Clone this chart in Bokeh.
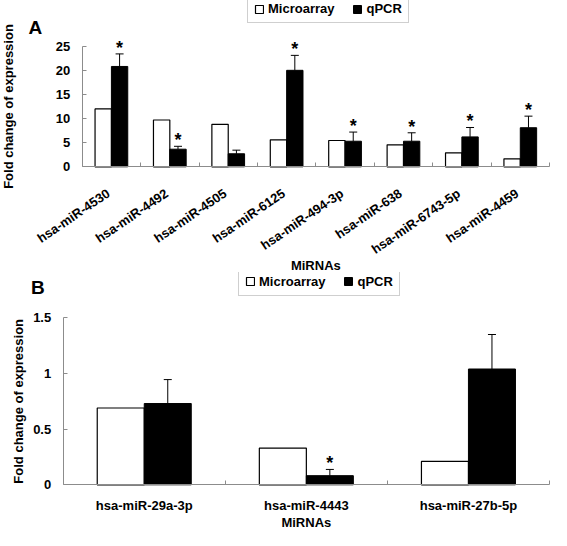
import math
from bokeh.plotting import figure
from bokeh.core.properties import value
from bokeh.models import (ColumnDataSource, Range1d, FixedTicker, Whisker, TeeHead, LabelSet, Label,
                          Legend, LegendItem, CustomJSTickFormatter, NumeralTickFormatter)
from bokeh.layouts import column
from bokeh.embed import file_html
from bokeh.resources import INLINE

FONT = "Liberation Sans"
GRAY = "#8c8c8c"

series_names = ["Microarray", "qPCR"]
x_title = "MiRNAs"
y_title = "Fold change of expression"

# Panel A
cats_a = ["hsa-miR-4530", "hsa-miR-4492", "hsa-miR-4505", "hsa-miR-6125",
          "hsa-miR-494-3p", "hsa-miR-638", "hsa-miR-6743-5p", "hsa-miR-4459"]
micro_a = [12.0, 9.7, 8.8, 5.6, 5.45, 4.55, 2.9, 1.65]
qpcr_a = [20.8, 3.65, 2.7, 20.0, 5.3, 5.3, 6.2, 8.1]
err_a = [2.6, 0.6, 0.75, 3.1, 1.9, 1.75, 1.95, 2.4]
sig_a = [True, True, False, True, True, True, True, True]
yticks_a = [0, 5, 10, 15, 20, 25]

# Panel B
cats_b = ["hsa-miR-29a-3p", "hsa-miR-4443", "hsa-miR-27b-5p"]
micro_b = [0.69, 0.33, 0.21]
qpcr_b = [0.73, 0.082, 1.04]
err_b = [0.215, 0.056, 0.31]
sig_b = [False, True, False]
yticks_b = [0, 0.5, 1, 1.5]

W = 551
AXIS_RIGHT = 549


def make_panel(cats, micro, qpcr, err, sig, yticks, H, y0_px, axis_px, axis_x, bw, angle,
               tick_standoff, leg_xy, letter, letter_xy, ytitle_x, xtitle_y):
    """Whole canvas is the plot frame; axes are pinned at x=0 / y=0 so every text stays visible."""
    n = len(cats)
    centers = [i + 0.5 for i in range(n)]
    k = axis_px / (yticks[-1] - yticks[0])          # px per y unit
    cat_px = (AXIS_RIGHT - axis_x) / n               # px per category
    x_rng = Range1d(-axis_x / cat_px, (W - axis_x) / cat_px)
    y_rng = Range1d(-(H - y0_px) / k, y0_px / k)
    p = figure(width=W, height=H, x_range=x_rng, y_range=y_rng,
               output_backend="svg", toolbar_location=None,
               min_border_left=0, min_border_right=0, min_border_top=0, min_border_bottom=0)
    src = ColumnDataSource(dict(
        xc=centers, y0=[yticks[0]] * n, cat=cats,
        xm=[c - bw / 2 for c in centers], xq=[c + bw / 2 for c in centers],
        micro=micro, qpcr=qpcr, top=[q + e for q, e in zip(qpcr, err)],
        star=["*" if s else "" for s in sig]))
    rm = p.vbar(x="xm", top="micro", bottom=0, width=bw, source=src,
                fill_color="white", line_color="black", line_width=1.2)
    rq = p.vbar(x="xq", top="qpcr", bottom=0, width=bw, source=src,
                fill_color="black", line_color="black", line_width=1)
    p.add_layout(Whisker(base="xq", lower="qpcr", upper="top", source=src, dimension="height",
                         line_color="black", line_width=1, lower_head=None,
                         upper_head=TeeHead(size=8, line_color="black", line_width=1)))
    p.add_layout(LabelSet(x="xq", y="top", text="star", source=src, text_align="center",
                          text_baseline="alphabetic", text_font=value(FONT),
                          text_font_size=value("18px"), text_font_style=value("bold"),
                          text_color="black", y_offset=0))

    leg = Legend(items=[LegendItem(label=series_names[0], renderers=[rm]),
                        LegendItem(label=series_names[1], renderers=[rq])],
                 orientation="horizontal", location=(leg_xy[0], H - leg_xy[1]),
                 glyph_width=10, glyph_height=10,
                 label_standoff=4, spacing=18, padding=6, margin=0, label_height=12,
                 border_line_color="#a0a0a0", border_line_width=1,
                 label_text_font=FONT, label_text_font_size="13px", label_text_font_style="bold",
                 label_text_color="black")
    p.add_layout(leg)

    # panel letter
    p.add_layout(Label(x=letter_xy[0], y=H - letter_xy[1], x_units="screen", y_units="screen",
                       text=letter, text_font=FONT, text_font_size="19px", text_baseline="alphabetic",
                       text_font_style="bold", text_color="black"))
    # axis titles
    p.add_layout(Label(x=ytitle_x, y=(yticks[0] + yticks[-1]) / 2, x_units="screen", y_units="data",
                       text=y_title, angle=math.pi / 2, text_align="center", text_baseline="middle",
                       text_font=FONT, text_font_size="13px", text_font_style="bold",
                       text_color="black"))
    p.add_layout(Label(x=n / 2, y=H - xtitle_y, x_units="data", y_units="screen",
                       text=x_title, text_align="center", text_baseline="middle",
                       text_font=FONT, text_font_size="13px", text_font_style="bold",
                       text_color="black"))

    p.xgrid.visible = False
    p.ygrid.visible = False
    p.outline_line_color = None

    xa = p.xaxis[0]
    xa.fixed_location = yticks[0]
    xa.bounds = (0, n)
    xa.ticker = FixedTicker(ticks=centers, minor_ticks=list(range(n + 1)))
    xa.major_tick_line_color = None
    xa.minor_tick_in = 4
    xa.minor_tick_out = 0
    xa.minor_tick_line_color = GRAY
    xa.axis_line_color = GRAY
    xa.major_label_text_font = FONT
    xa.major_label_text_font_size = "13px"
    xa.major_label_text_font_style = "bold"
    xa.major_label_text_color = "black"
    if angle:
        # slanted category labels, right end tucked under each category centre
        xa.formatter = CustomJSTickFormatter(code="return '';")
        p.add_layout(LabelSet(x="xc", y="y0", text="cat", source=src, angle=angle,
                              x_offset=-3, y_offset=-tick_standoff,
                              text_align="right", text_baseline="middle",
                              text_font=value(FONT), text_font_size=value("13px"),
                              text_font_style=value("bold"), text_color="black"))
    else:
        xa.formatter = CustomJSTickFormatter(args=dict(labels=cats),
                                             code="return labels[Math.floor(tick)];")
        xa.major_label_standoff = tick_standoff

    ya = p.yaxis[0]
    ya.fixed_location = 0
    ya.bounds = (yticks[0], yticks[-1])
    ya.ticker = FixedTicker(ticks=yticks, minor_ticks=[])
    ya.formatter = NumeralTickFormatter(format="0.[0]")
    ya.major_tick_in = 4
    ya.major_tick_out = 0
    ya.major_tick_line_color = GRAY
    ya.axis_line_color = GRAY
    ya.major_label_standoff = 12
    ya.major_label_text_font = FONT
    ya.major_label_text_font_size = "13px"
    ya.major_label_text_font_style = "bold"
    ya.major_label_text_color = "black"
    return p


pa = make_panel(cats_a, micro_a, qpcr_a, err_a, sig_a, yticks_a, H=272, y0_px=166.3, axis_px=120.6,
                axis_x=81.7, bw=0.28, angle=0.6, tick_standoff=25, leg_xy=(247, 23),
                letter="A", letter_xy=(28, 27), ytitle_x=7.5, xtitle_y=265)
pb = make_panel(cats_b, micro_b, qpcr_b, err_b, sig_b, yticks_b, H=258, y0_px=212.3, axis_px=167.0,
                axis_x=62.7, bw=0.29, angle=None, tick_standoff=7, leg_xy=(238, 23.6),
                letter="B", letter_xy=(30.5, 15.3), ytitle_x=18, xtitle_y=250.3)

layout = column(pa, pb, spacing=0)
open("out.html", "w").write(file_html(layout, INLINE))
